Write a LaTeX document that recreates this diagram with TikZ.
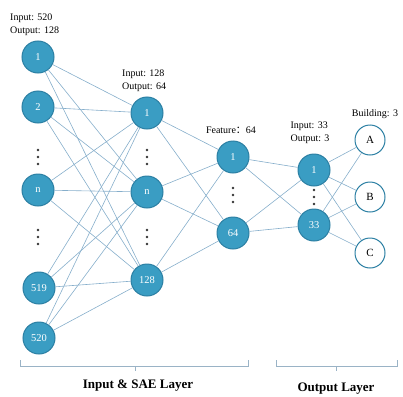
\documentclass[tikz,border=0pt]{standalone}
\usepackage{fontspec}
\setmainfont{Liberation Serif}
\newfontfamily\cjk{Noto Sans CJK SC}
\usepackage{amsmath}

\definecolor{nfill}{HTML}{3A9DC3}
\definecolor{nline}{HTML}{2B7FA3}
\definecolor{wire}{HTML}{86AECB}
\definecolor{brace}{HTML}{9AB3C6}

% three dots standing for the hidden neurons
\newcommand{\dotcol}[1]{\fill[black!80] ([yshift=7pt]#1) circle (1.4pt) (#1) circle (1.4pt) ([yshift=-7pt]#1) circle (1.4pt);}

\begin{document}
\begin{tikzpicture}[x=1pt,y=-1pt,
	neuron/.style={shape=circle,draw=nline,fill=nfill,line width=1pt,minimum size=32pt,inner sep=0pt,text=white,font=\fontsize{10.5}{10.5}\selectfont},
	outnode/.style={shape=circle,draw=nline,fill=white,line width=1pt,minimum size=30pt,inner sep=0pt,font=\fontsize{11}{11}\selectfont},
	link/.style={draw=wire,line width=0.6pt},
	info/.style={align=left,inner sep=1pt,font=\fontsize{10}{13}\selectfont},
	bracket/.style={draw=brace,line width=0.8pt}]

	\useasboundingbox (0,0) rectangle (403,396);

	% input layer
	\node[neuron] (a1) at (38, 57)     {1};
	\node[neuron] (a2) at (38, 107)    {2};
	\coordinate   (ad1) at (38, 157);
	\node[neuron] (an) at (38, 190)    {n};
	\coordinate   (ad2) at (38, 237);
	\node[neuron] (a519) at (39, 288)  {519};
	\node[neuron] (a520) at (39, 338)  {520};

	% SAE layer 1
	\node[neuron] (b1) at (147, 113)   {1};
	\coordinate   (bd1) at (147, 157);
	\node[neuron] (bn) at (147, 192)   {n};
	\coordinate   (bd2) at (147, 237);
	\node[neuron] (b128) at (147, 280) {128};

	% feature layer
	\node[neuron] (c1) at (233, 157)   {1};
	\coordinate   (cd) at (233, 195);
	\node[neuron] (c64) at (233, 233)  {64};

	% output layer
	\node[neuron] (d1) at (314, 170)   {1};
	\coordinate   (dd) at (314, 197);
	\node[neuron] (d33) at (314, 225)  {33};

	\node[outnode] (eA) at (370, 140)  {A};
	\node[outnode] (eB) at (370, 197)  {B};
	\node[outnode] (eC) at (370, 253)  {C};

	\dotcol{ad1} \dotcol{ad2} \dotcol{bd1} \dotcol{bd2}
	\dotcol{cd} \dotcol{dd}

	% labels
	\node[info,anchor=south west] (la) at (9, 37)   {Input: 520\\Output: 128};
	\node[info,anchor=south west] (lb) at (121, 93) {Input: 128\\Output: 64};
	\node[info,anchor=south] (lc) at (231, 135)     {Feature{\cjk ：}64};
	\node[info,anchor=south] (ld) at (310, 145)     {Input: 33\\Output: 3};
	\node[info,anchor=south] (le) at (375, 120)     {Building: 3};

	\path[link] (a1) edge (b1) edge (bn) edge (b128);
	\path[link] (a2) edge (b1) edge (bn) edge (b128);
	\path[link] (an) edge (b1) edge (bn) edge (b128);
	\path[link] (a519) edge (b1) edge (bn) edge (b128);
	\path[link] (a520) edge (b1) edge (bn) edge (b128);
	\path[link] (b1) edge (c1) edge (c64);
	\path[link] (bn) edge (c1) edge (c64);
	\path[link] (b128) edge (c1) edge (c64);
	\path[link] (c1) edge (d1) edge (d33);
	\path[link] (c64) edge (d1) edge (d33);
	\path[link] (d1) edge (eA) edge (eB) edge (eC);
	\path[link] (d33) edge (eA) edge (eB) edge (eC);

	% braces
	\coordinate (sL) at (20, 366);
	\coordinate (sR) at (248, 366);
	\coordinate (sM) at (135, 366);
	\coordinate (tL) at (276, 366);
	\coordinate (tR) at (397, 366);
	\coordinate (tM) at (336, 366);
	\draw[bracket] ([yshift=6pt]sL) -- (sL) -- (sR) -- ([yshift=6pt]sR);
	\draw[bracket] (sM) -- ([yshift=-5pt]sM);
	\draw[bracket] ([yshift=6pt]tL) -- (tL) -- (tR) -- ([yshift=6pt]tR);
	\draw[bracket] (tM) -- ([yshift=-5pt]tM);

	\node[font=\bfseries\fontsize{13}{13}\selectfont] (ls) at (138, 386) {Input \& SAE Layer};
	\node[font=\bfseries\fontsize{13}{13}\selectfont] (lt) at (336, 389) {Output Layer};

\end{tikzpicture}
\end{document}
